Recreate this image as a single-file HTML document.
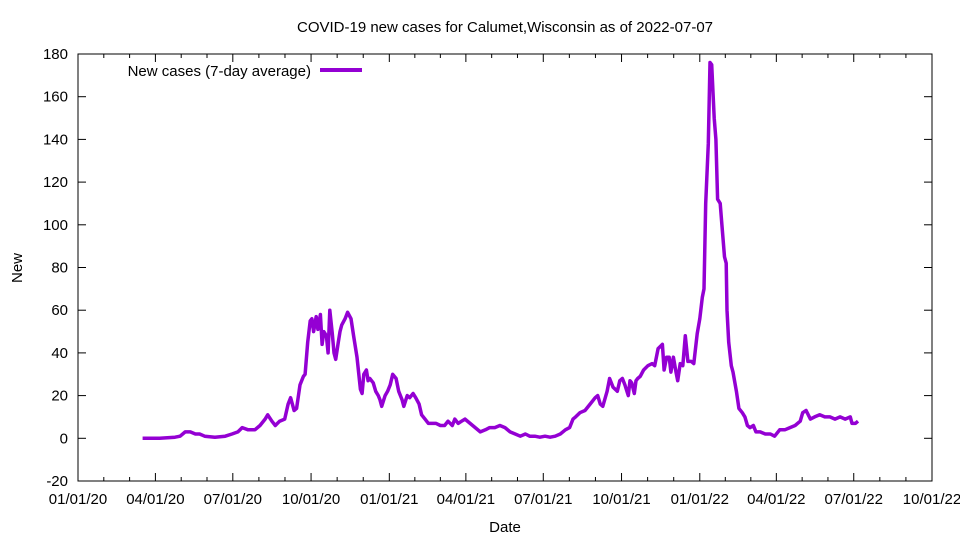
<!DOCTYPE html>
<html><head><meta charset="utf-8"><style>
body{margin:0;background:#fff}
svg{display:block;font-family:"Liberation Sans",sans-serif}
</style></head><body>
<svg id="chart" width="960" height="540" viewBox="0 0 960 540" xmlns="http://www.w3.org/2000/svg">
<rect width="960" height="540" fill="#fff"/>
<text x="505" y="32" font-size="15" text-anchor="middle">COVID-19 new cases for Calumet,Wisconsin as of 2022-07-07</text>
<g id="axes"></g>
<rect x="78" y="54" width="854" height="427" fill="none" stroke="#000" stroke-width="1"/>
<text x="22" y="268" font-size="15" text-anchor="middle" transform="rotate(-90 22 268)">New</text>
<text x="505" y="532" font-size="15" text-anchor="middle">Date</text>
<g>
<text x="311" y="76" font-size="15" text-anchor="end">New cases (7-day average)</text>
<line x1="320" y1="70" x2="362" y2="70" stroke="#9400d3" stroke-width="4"/>
</g>
<path id="series" fill="none" stroke="#9400d3" stroke-width="3.5" stroke-linejoin="round"/>
</svg>
<script>
const days=[76,96,114,120,126,132,138,143,149,161,173,181,188,193,200,208,214,220,223,228,232,237,243,247,250,254,257,261,265,267,270,273,275,277,280,282,285,287,289,292,294,296,299,301,303,306,308,310,314,317,321,324,328,332,334,336,339,341,343,347,350,353,355,357,361,364,367,370,374,377,381,383,387,390,394,397,401,404,408,412,416,421,426,431,435,440,443,447,451,455,461,467,473,479,484,490,496,502,508,514,520,526,531,537,543,549,555,561,567,573,578,582,585,590,596,602,608,611,614,617,622,625,629,634,637,640,643,647,649,651,654,656,658,661,665,670,675,678,682,687,689,692,695,697,700,703,705,708,711,714,717,721,724,728,731,734,736,738,741,743,745,748,750,752,755,757,760,762,763,765,768,770,774,777,781,784,787,790,794,797,802,808,814,819,825,831,837,843,849,852,856,861,866,872,878,884,890,896,902,908,910,914,917];
const values=[0,0,0.5,1,3,3,2,2,1,0.5,1,2,3,5,4,4,6,9,11,8,6,8,9,16,19,13,14,25,29,30,45,55,56,50,57,51,58,44,50,48,40,60,49,40,37,45,50,53,56,59,56,48,38,23,21,30,32,27,28,26,22,20,18,15,20,22,25,30,28,22,18,15,20,19,21,19,16,11,9,7,7,7,6,6,8,6,9,7,8,9,7,5,3,4,5,5,6,5,3,2,1,2,1,1,0.5,1,0.5,1,2,4,5,9,10,12,13,16,19,20,16,15,22,28,24,22,27,28,25,20,27,26,21,27,28,29,32,34,35,34,42,44,32,38,38,31,38,31,27,35,34,48,36,36,35,49,56,66,70,110,138,176,175,150,140,112,110,100,85,82,60,45,34,31,22,14,12,10,6,5,6,3,3,2,2,1,4,4,5,6,8,12,13,9,10,11,10,10,9,10,9,10,7,7,8];
const yTicks=[-20,0,20,40,60,80,100,120,140,160,180];
const xTickDays=[0,91,182,274,366,456,547,639,731,821,912,1004];
const xTickLabels=["01/01/20","04/01/20","07/01/20","10/01/20","01/01/21","04/01/21","07/01/21","10/01/21","01/01/22","04/01/22","07/01/22","10/01/22"];
const X0=78,X1=932,Y0=481,Y1=54,DMAX=1004,VMIN=-20,VMAX=180;
const xs=d=>X0+d*(X1-X0)/DMAX;
const ys=v=>Y0-(v-VMIN)*(Y0-Y1)/(VMAX-VMIN);
const NS="http://www.w3.org/2000/svg";
const axes=document.getElementById('axes');
function mk(tag,attrs){const e=document.createElementNS(NS,tag);for(const k in attrs)e.setAttribute(k,attrs[k]);axes.appendChild(e);return e;}
yTicks.forEach(v=>{
  const y=ys(v);
  const t1=mk('line',{x1:X0,y1:y,x2:X0+8,y2:y,stroke:'#000'});
  
  
  const t2=mk('line',{x1:X1,y1:y,x2:X1-8,y2:y,stroke:'#000'});
  
  
  const l=mk('text',{x:X0-10,y:y+5,'font-size':15,'text-anchor':'end'});
  l.textContent=v;
  
  
});
xTickDays.forEach((d,i)=>{
  const x=xs(d);
  const t1=mk('line',{x1:x,y1:Y0,x2:x,y2:Y0-8,stroke:'#000'});
  
  
  const t2=mk('line',{x1:x,y1:Y1,x2:x,y2:Y1+8,stroke:'#000'});
  
  
  if(i<xTickDays.length-1){[1,2].forEach(k=>{
    const mx=xs(d+(xTickDays[i+1]-d)*k/3);
    const m1=mk('line',{x1:mx,y1:Y0,x2:mx,y2:Y0-4,stroke:'#000'});
    
    
    const m2=mk('line',{x1:mx,y1:Y1,x2:mx,y2:Y1+4,stroke:'#000'});
    
    
  });}
  const l=mk('text',{x:x,y:504,'font-size':15,'text-anchor':'middle'});
  l.textContent=xTickLabels[i];
  
  
});
document.getElementById('series').setAttribute('d',days.map((d,i)=>(i?'L':'M')+xs(d).toFixed(1)+','+ys(values[i]).toFixed(1)).join(''));
</script>
</body></html>
